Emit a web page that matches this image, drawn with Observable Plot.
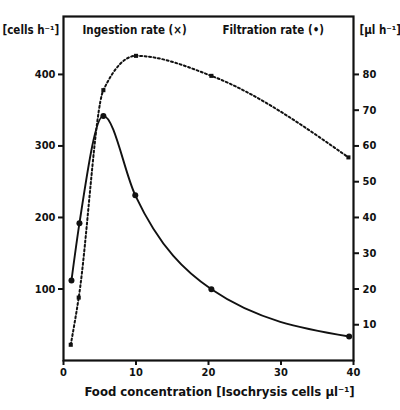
<!DOCTYPE html>
<html>
<head>
<meta charset="utf-8">
<script src="https://cdn.jsdelivr.net/npm/d3@7"></script>
<script src="https://cdn.jsdelivr.net/npm/@observablehq/plot@0.6"></script>
<style>
  html, body { margin: 0; padding: 0; background: #fff; }
  svg { display: block; }
</style>
</head>
<body>
<div id="chart"></div>
<script>
// Ingestion rate (cells h^-1), left axis
const ingestionConc = [1, 2.1, 5.5, 10, 20.4, 39.3];
const ingestionRate = [22, 88, 378, 426, 398, 284];
// Filtration rate (µl h^-1), right axis
const filtrationConc = [1.1, 2.2, 5.5, 9.9, 20.4, 39.4];
const filtrationRate = [22.4, 38.4, 68.4, 46.2, 19.9, 6.7];

const xTicks = [0, 10, 20, 30, 40];
const leftTicks = [100, 200, 300, 400];
const rightTicks = [10, 20, 30, 40, 50, 60, 70, 80];
const rightFactor = 5; // 80 µl h^-1 aligns with 400 cells h^-1

const ingestion = ingestionConc.map((x, i) => ({x, y: ingestionRate[i]}));
const filtration = filtrationConc.map((x, i) => ({x, y: filtrationRate[i] * rightFactor}));

const font = "'DejaVu Sans Condensed', 'DejaVu Sans', sans-serif";

const chart = Plot.plot({
  width: 400,
  height: 410,
  marginLeft: 63,
  marginRight: 47,
  marginTop: 16,
  marginBottom: 50,
  style: {fontFamily: font, fontSize: "11px", fontWeight: "bold", color: "#111", background: "#fff"},
  x: {domain: [0, 40]},
  y: {domain: [0, 481]},
  marks: [
    Plot.frame({stroke: "#111", strokeWidth: 2.2}),
    Plot.axisX({ticks: xTicks, tickSize: 5, tickPadding: 3, label: null, tickFormat: d => d, strokeWidth: 2}),
    Plot.axisY({ticks: leftTicks, tickSize: 5, tickPadding: 3, label: null, tickFormat: d => d, strokeWidth: 2}),
    Plot.axisY({anchor: "right", ticks: rightTicks.map(d => d * rightFactor), tickSize: 5, tickPadding: 4,
      label: null, tickFormat: d => d / rightFactor, strokeWidth: 2, textAnchor: "start"}),
    Plot.line(ingestion, {x: "x", y: "y", curve: "monotone-x", stroke: "#111", strokeWidth: 2, strokeDasharray: "2,2.5"}),
    Plot.dot(ingestion, {x: "x", y: "y", symbol: "square", r: 2.3, fill: "#111"}),
    Plot.line(filtration, {x: "x", y: "y", curve: "monotone-x", stroke: "#111", strokeWidth: 1.9}),
    Plot.dot(filtration, {x: "x", y: "y", r: 3, fill: "#111"}),
    Plot.text(["Ingestion rate (×)"], {frameAnchor: "top-left", dx: 19, dy: 9, textAnchor: "start", fontSize: 11.5}),
    Plot.text(["Filtration rate (•)"], {frameAnchor: "top-left", dx: 159, dy: 9, textAnchor: "start", fontSize: 11.5}),
    Plot.text(["[cells h⁻¹]"], {frameAnchor: "top-left", dx: -61, dy: 9, textAnchor: "start", fontSize: 11.5}),
    Plot.text(["[µl h⁻¹]"], {frameAnchor: "top-right", dx: 6, dy: 9, textAnchor: "start", fontSize: 11.5}),
    Plot.text(["Food concentration [Isochrysis cells µl⁻¹]"], {frameAnchor: "bottom", dx: 11, dy: 35, fontSize: 13})
  ]
});
document.getElementById("chart").appendChild(chart);
</script>
</body>
</html>
